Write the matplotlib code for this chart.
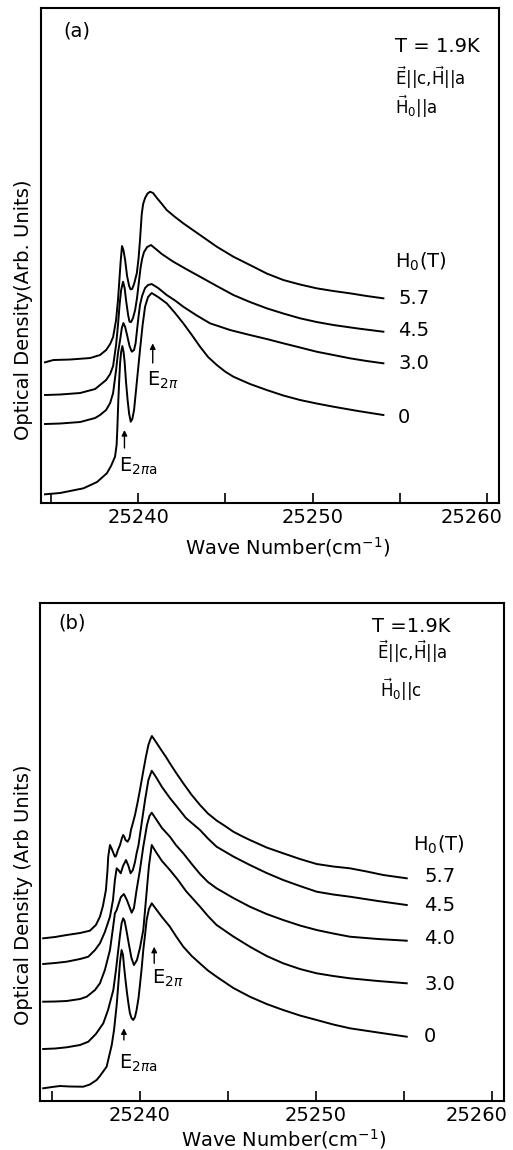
import numpy as np
from matplotlib import pyplot as plt
import matplotlib.transforms as mtransforms

# optical density is in arbitrary units (panel height ~ 495 units)

# ---- panel (a): H0 || a ----
wn_a_57 = [25234.67, 25235.15, 25236.11, 25237.26, 25237.82, 25238.17, 25238.40, 25238.57, 25238.74,
           25238.85, 25238.93, 25239.00, 25239.08, 25239.16, 25239.26, 25239.37, 25239.49, 25239.57,
           25239.66, 25239.77, 25239.93, 25240.03, 25240.11, 25240.21, 25240.29, 25240.40, 25240.54,
           25240.69, 25240.86, 25241.08, 25241.32, 25241.64, 25242.12, 25242.59, 25243.55, 25244.51,
           25245.46, 25246.41, 25247.37, 25248.32, 25249.28, 25250.23, 25251.19, 25252.14, 25253.10,
           25254.05]
od_a_57 = [140.7, 143, 143.5, 145, 148, 153, 159, 166, 183,
           203, 223, 241, 257, 253, 243, 227, 217, 213.7,
           214, 219, 230, 245, 263, 289, 299, 305, 309.5,
           311.3, 310, 305, 300, 293, 286, 279.7, 268, 256.3,
           246.3, 238, 229.5, 223, 218.5, 214.7, 212, 209.7, 207,
           204.7]

wn_a_45 = [25234.67, 25235.53, 25236.68, 25237.54, 25237.82, 25238.17, 25238.40, 25238.57, 25238.74,
           25238.85, 25238.94, 25239.03, 25239.14, 25239.23, 25239.31, 25239.43, 25239.51, 25239.60,
           25239.71, 25239.83, 25239.94, 25240.06, 25240.14, 25240.23, 25240.34, 25240.52, 25240.74,
           25241.02, 25241.36, 25242.02, 25242.75, 25243.55, 25244.51, 25245.46, 25246.41, 25247.37,
           25248.32, 25249.28, 25250.23, 25251.19, 25252.60, 25254.05]
od_a_45 = [108, 108.5, 110, 114, 118, 123, 129, 137, 158,
           178, 198, 213, 221.3, 215, 203, 188, 181.3, 181,
           185, 193, 205, 223, 235, 244, 251, 256, 258,
           254, 249, 241.3, 234, 226.3, 217, 208, 201, 194.7,
           189.5, 184.7, 181, 178, 174.5, 171.3]

wn_a_30 = [25234.67, 25235.53, 25236.68, 25237.54, 25237.82, 25238.17, 25238.40, 25238.57, 25238.74,
           25238.85, 25238.97, 25239.07, 25239.16, 25239.26, 25239.37, 25239.51, 25239.64, 25239.77,
           25239.86, 25239.94, 25240.03, 25240.11, 25240.23, 25240.40, 25240.57, 25240.78, 25241.15,
           25241.64, 25242.12, 25242.59, 25243.32, 25244.12, 25245.27, 25246.41, 25247.37, 25248.32,
           25249.28, 25250.23, 25251.19, 25252.14, 25253.10, 25254.05]
od_a_30 = [79, 79.5, 81, 85, 88, 93, 100, 110, 133,
           150, 163, 175, 180, 176, 168, 157, 151.3, 153,
           160, 173, 187, 198, 207, 215, 218, 219, 215,
           208, 202.5, 196.3, 188, 179.7, 173, 168, 164, 159.7,
           155.5, 151.3, 148, 144.7, 142, 139.7]

wn_a_0 = [25234.67, 25235.53, 25236.87, 25237.65, 25238.21, 25238.45, 25238.68, 25238.77, 25238.81,
          25238.87, 25238.92, 25238.97, 25239.03, 25239.10, 25239.17, 25239.23, 25239.31, 25239.40,
          25239.49, 25239.58, 25239.67, 25239.77, 25239.94, 25240.11, 25240.26, 25240.40, 25240.57,
          25240.78, 25241.15, 25241.64, 25242.12, 25242.59, 25243.08, 25243.55, 25244.01, 25244.51,
          25244.98, 25245.46, 25246.41, 25247.37, 25248.32, 25249.28, 25250.23, 25251.19, 25252.60,
          25254.05]
od_a_0 = [8.7, 10, 14.7, 21, 29.7, 37, 46.3, 58, 73,
          103, 123, 140, 151, 157, 151, 141, 121, 103,
          89, 81.3, 84, 93, 123, 153, 178, 196.3, 206,
          210, 206, 199.7, 190, 179.7, 168, 156.3, 146, 138,
          131.5, 126.3, 119, 113, 107.5, 103, 99.5, 96.3, 92,
          88]

# ---- panel (b): H0 || c ----
wn_b_57 = [25234.52, 25235.19, 25235.85, 25236.61, 25237.17, 25237.51, 25237.74, 25237.91, 25238.08,
           25238.17, 25238.21, 25238.31, 25238.39, 25238.48, 25238.59, 25238.65, 25238.76, 25238.88,
           25238.99, 25239.06, 25239.13, 25239.19, 25239.31, 25239.42, 25239.50, 25239.61, 25239.73,
           25239.87, 25240.01, 25240.18, 25240.35, 25240.49, 25240.61, 25240.69, 25240.92, 25241.20,
           25241.49, 25241.71, 25242.05, 25242.47, 25242.95, 25243.42, 25243.87, 25244.36, 25244.84,
           25245.31, 25245.78, 25246.25, 25247.20, 25248.14, 25249.09, 25250.04, 25250.98, 25251.93,
           25252.88, 25253.82, 25255.15]
od_b_57 = [162.7, 164, 166, 168, 170.3, 176, 184.3, 195, 211,
           231, 244.3, 256, 253, 249, 244.3, 245, 251, 256,
           263, 266, 264, 261, 259.3, 263, 271, 278, 286,
           298, 311, 328, 344.3, 356, 362, 365, 359, 351.5,
           344, 337.7, 328.5, 317.7, 306, 296, 287.5, 280.5, 275,
           269.3, 265, 261, 253.5, 247.7, 242, 237, 234.5, 232.7,
           229.5, 226, 222.7]

wn_b_45 = [25234.52, 25235.19, 25235.85, 25236.61, 25237.08, 25237.46, 25237.74, 25238.02, 25238.31,
           25238.48, 25238.59, 25238.69, 25238.79, 25238.92, 25239.05, 25239.22, 25239.36, 25239.48,
           25239.61, 25239.73, 25239.82, 25239.93, 25240.01, 25240.15, 25240.30, 25240.49, 25240.68,
           25240.92, 25241.26, 25241.71, 25242.17, 25242.62, 25243.42, 25243.87, 25244.36, 25245.31,
           25246.25, 25247.20, 25248.14, 25249.09, 25250.04, 25250.98, 25251.93, 25253.52, 25255.15]
od_b_45 = [137, 138, 139.3, 142, 144.3, 151, 157.7, 169, 184.3,
           201, 221, 232.7, 231, 227.7, 235, 241, 235, 227.7,
           231, 239, 247.7, 256, 266, 283, 301, 321, 330.3,
           324, 314, 303, 293, 283, 271, 262.5, 254.3, 244.5,
           236, 228, 221, 215, 209.3, 206.5, 204.3, 200, 196]

wn_b_40 = [25234.52, 25235.19, 25235.85, 25236.61, 25236.99, 25237.46, 25237.74, 25238.02, 25238.31,
           25238.48, 25238.59, 25238.69, 25238.78, 25238.93, 25239.10, 25239.27, 25239.42, 25239.54,
           25239.67, 25239.82, 25240.01, 25240.20, 25240.41, 25240.55, 25240.68, 25240.92, 25241.26,
           25241.71, 25242.05, 25242.47, 25242.95, 25243.42, 25243.87, 25244.36, 25245.31, 25246.25,
           25247.20, 25248.14, 25249.09, 25250.04, 25250.98, 25251.93, 25253.52, 25255.15]
od_b_40 = [99.3, 99.5, 100, 102, 104.3, 111, 117.7, 131, 151,
           173, 187.7, 191, 196, 204, 207, 201, 194, 188.3,
           193, 211, 231, 254.3, 276, 285, 288.3, 282, 273,
           264.3, 256, 247.7, 237, 227, 219, 212.7, 203, 194.3,
           187, 181, 175.5, 171, 167.5, 164.3, 162, 160.3]

wn_b_30 = [25234.52, 25235.19, 25235.85, 25236.61, 25237.08, 25237.51, 25237.93, 25238.20, 25238.50,
           25238.65, 25238.78, 25238.88, 25238.97, 25239.06, 25239.14, 25239.22, 25239.39, 25239.53,
           25239.67, 25239.84, 25240.01, 25240.20, 25240.35, 25240.52, 25240.68, 25240.92, 25241.26,
           25241.71, 25242.17, 25242.62, 25243.42, 25243.87, 25244.36, 25245.31, 25246.25, 25247.20,
           25248.14, 25249.09, 25250.04, 25250.98, 25251.93, 25253.52, 25255.15]
od_b_30 = [52, 52.5, 53.7, 56, 59.3, 67, 77.7, 91, 111,
           131, 151, 166, 177.7, 182.7, 180, 173, 156, 143,
           136, 141, 153, 171, 201, 235, 256, 249, 240,
           231, 221, 210, 194.3, 185, 176, 164.5, 154.3, 145,
           137.7, 132, 127.7, 125, 122.7, 120, 117.7]

wn_b_0 = [25234.52, 25235.02, 25235.47, 25236.04, 25236.79, 25237.17, 25237.55, 25237.74, 25238.12,
          25238.41, 25238.54, 25238.69, 25238.78, 25238.88, 25238.97, 25239.05, 25239.10, 25239.19,
          25239.27, 25239.36, 25239.44, 25239.53, 25239.63, 25239.73, 25239.82, 25239.93, 25240.01,
          25240.11, 25240.20, 25240.30, 25240.39, 25240.52, 25240.68, 25240.92, 25241.26, 25241.71,
          25242.05, 25242.47, 25242.95, 25243.42, 25243.87, 25244.36, 25245.31, 25246.25, 25247.20,
          25248.14, 25249.09, 25250.04, 25250.98, 25251.93, 25253.52, 25255.15]
od_b_0 = [12.7, 14, 15, 14.5, 14.3, 16.5, 21, 25, 34.3,
          56, 71, 96, 116, 139, 151, 146, 136, 121,
          109, 97, 88, 83, 81, 84, 91, 103, 116,
          133, 151, 166, 181, 192, 197.7, 192, 184, 174.3,
          165, 154.3, 145, 137.5, 130.5, 124.3, 113, 104.3, 97,
          91, 85.5, 81, 76.5, 72.7, 68.5, 64.3]

field_a = ['5.7', '4.5', '3.0', '0']
field_b = ['5.7', '4.5', '4.0', '3.0', '0']
label_y_a = [204.7, 173, 140, 85.7]
label_y_b = [224.3, 196, 162.7, 117, 64.3]

ticks = [25235, 25240, 25245, 25250, 25255, 25260]
ticklabels = ['', '25240', '', '25250', '', '25260']

plt.rcParams['font.family'] = ['DejaVu Sans']
plt.rcParams['mathtext.fontset'] = 'dejavusans'

fig = plt.figure(figsize=(5.13, 11.5), dpi=100)
ax1 = fig.add_axes([0.0799, 0.5626, 0.8928, 0.4304])
ax2 = fig.add_axes([0.0780, 0.0426, 0.9045, 0.4333])

curves_a = [(wn_a_57, od_a_57), (wn_a_45, od_a_45), (wn_a_30, od_a_30), (wn_a_0, od_a_0)]
curves_b = [(wn_b_57, od_b_57), (wn_b_45, od_b_45), (wn_b_40, od_b_40), (wn_b_30, od_b_30), (wn_b_0, od_b_0)]

for ax, curves in [(ax1, curves_a), (ax2, curves_b)]:
    for wn, od in curves:
        ax.plot(wn, od, color='k', lw=1.4, solid_joinstyle='round')
    ax.set_yticks([])
    ax.set_xticks(ticks)
    ax.set_xticklabels(ticklabels)
    ax.tick_params(axis='x', direction='in', length=7, width=1.2, labelsize=14, pad=3.5)
    for s in ax.spines.values():
        s.set_linewidth(1.5)
    # last label sits a little left of its tick, as in the original
    lab = ax.xaxis.get_major_ticks()[-1].label1
    lab.set_transform(lab.get_transform() + mtransforms.ScaledTranslation(-11 / 72, 0, fig.dpi_scale_trans))

ax1.set_xlim(25234.44, 25260.67)
ax2.set_xlim(25234.34, 25260.67)
ax1.set_ylim(0, 495)
ax2.set_ylim(0, 498.3)

arw = dict(arrowstyle='-|>', lw=1.0, color='k', mutation_scale=8, shrinkA=0, shrinkB=0)

# panel (a) texts
ax1.text(25235.70, 472, '(a)', fontsize=14, va='center')
ax1.text(25254.72, 456.3, 'T = 1.9K', fontsize=14, va='center')
ax1.text(25254.72, 425, r'$\vec{\mathrm{E}}||$c,$\vec{\mathrm{H}}||$a', fontsize=12, va='center')
ax1.text(25254.72, 396.3, r'$\vec{\mathrm{H}}_0||$a', fontsize=12, va='center')
ax1.text(25254.72, 241.3, r'H$_0$(T)', fontsize=14, va='center')
for lab, yy in zip(field_a, label_y_a):
    ax1.text(25254.89, yy, lab, fontsize=14, va='center')
ax1.annotate('', xy=(25240.84, 159.7), xytext=(25240.84, 140), arrowprops=arw)
ax1.text(25240.50, 123, r'E$_{2\pi}$', fontsize=14, va='center')
ax1.annotate('', xy=(25239.22, 73), xytext=(25239.22, 55), arrowprops=arw)
ax1.text(25238.91, 36.3, r'E$_{2\pi\mathrm{a}}$', fontsize=14, va='center')
ax1.set_ylabel('Optical Density(Arb. Units)', fontsize=14)
ax1.yaxis.set_label_coords(-0.0175, 0.39)
ax1.set_xlabel('Wave Number(cm$^{-1}$)', fontsize=14)
ax1.xaxis.set_label_coords(0.539, -0.065)

# panel (b) texts
ax2.text(25235.37, 477.7, '(b)', fontsize=14, va='center')
ax2.text(25253.16, 474.3, 'T =1.9K', fontsize=14, va='center')
ax2.text(25253.44, 449.3, r'$\vec{\mathrm{E}}||$c,$\vec{\mathrm{H}}||$a', fontsize=12, va='center')
ax2.text(25253.63, 411, r'$\vec{\mathrm{H}}_0||$c', fontsize=12, va='center')
ax2.text(25255.52, 256, r'H$_0$(T)', fontsize=14, va='center')
for lab, yy in zip(field_b, label_y_b):
    ax2.text(25256.13, yy, lab, fontsize=14, va='center')
ax2.annotate('', xy=(25240.82, 154.3), xytext=(25240.82, 137.7), arrowprops=arw)
ax2.text(25240.68, 122.7, r'E$_{2\pi}$', fontsize=14, va='center')
ax2.annotate('', xy=(25239.10, 72.7), xytext=(25239.10, 61), arrowprops=arw)
ax2.text(25238.82, 37.7, r'E$_{2\pi\mathrm{a}}$', fontsize=14, va='center')
ax2.set_ylabel('Optical Density (Arb Units)', fontsize=14)
ax2.yaxis.set_label_coords(-0.015, 0.413)
ax2.set_xlabel('Wave Number(cm$^{-1}$)', fontsize=14)
ax2.xaxis.set_label_coords(0.526, -0.053)

fig.savefig('out.png', dpi=100)
